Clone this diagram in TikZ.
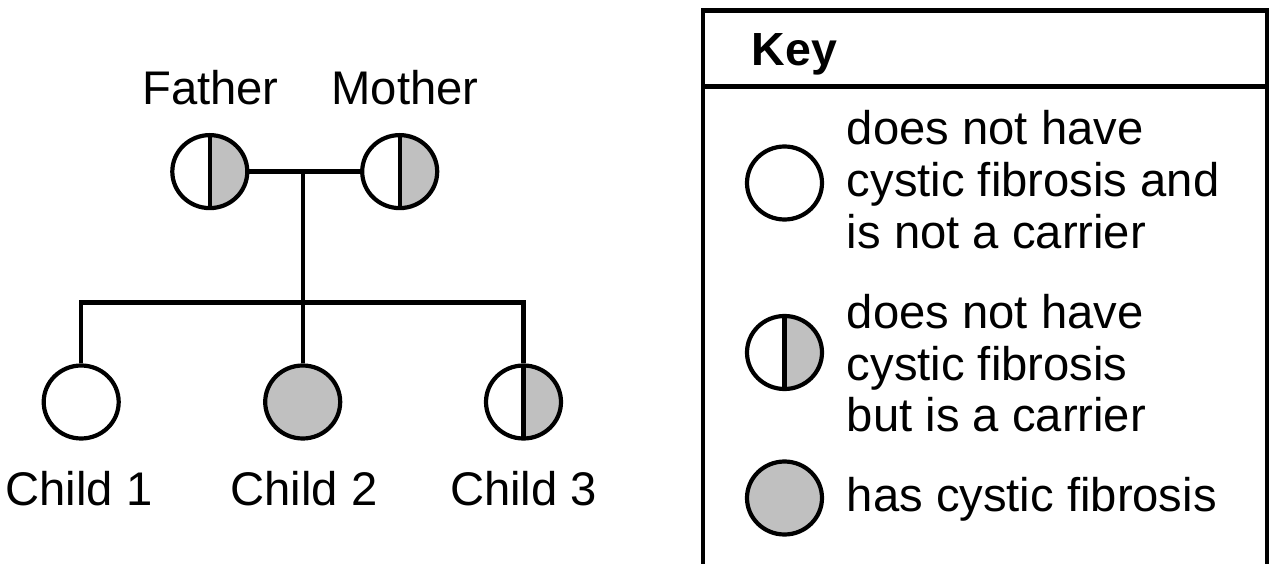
\documentclass[tikz,border=0pt]{standalone}
\usepackage{fontspec}
\setmainfont{Liberation Sans}
\usetikzlibrary{shapes.geometric}
\definecolor{cfgray}{RGB}{192,192,192}
\tikzset{
  link/.style={line width=4.2pt, line join=miter},
  person/.style={ellipse, draw, line width=4.2pt, fill=white,
    minimum width=75pt, minimum height=73pt, inner sep=0pt},
  unaffected/.style={person},
  affected/.style={person, fill=cfgray},
  carrier/.style={person, path picture={
    \fill[cfgray] (path picture bounding box.south) rectangle (path picture bounding box.north east);
    \draw[line width=4.2pt] (path picture bounding box.south) -- (path picture bounding box.north);}},
  lbl/.style={inner sep=0pt, font=\fontsize{47.2}{51.7}\selectfont},
  keytext/.style={lbl, align=left, anchor=base west}
}
\begin{document}
\begin{tikzpicture}[x=1pt, y=-1pt]
\useasboundingbox (0,0) rectangle (1269,564);

% pedigree: parents
\node[carrier] (father) at (209.8,171.6) {};
\node[carrier] (mother) at (399.7,171.6) {};
\node[lbl, anchor=base] (fatherlbl) at (210.5,105) {Father};
\node[lbl, anchor=base] (motherlbl) at (405,105) {Mother};

% pedigree: children
\node[unaffected] (c1) at (81.2,402) {};
\node[affected]   (c2) at (302.7,402) {};
\node[carrier]    (c3) at (523.5,402) {};
\node[lbl, anchor=base] (c1lbl) at (79,505) {Child 1};
\node[lbl, anchor=base] (c2lbl) at (304,505) {Child 2};
\node[lbl, anchor=base] (c3lbl) at (523.5,505) {Child 3};

% marriage and sibship lines
\coordinate (mid) at (302.7,171.6);
\coordinate (sib) at (302.7,302.4);
\draw[link] (father) -- (mother);
\draw[link] (mid) -- (sib);
\draw[link] (c1.north) -- (c1.north |- sib) -- (c3.north |- sib) -- (c3.north);
\draw[link] (sib) -- (c2.north);

% key box (open at the bottom)
\draw[link] (702.7,564) -- (702.7,10.5) -- (1267.5,10.5) -- (1267.5,564);
\draw[link] (702.7,86.5) -- (1267.5,86.5);
\node[lbl, anchor=base west, font=\fontsize{46.5}{51.7}\selectfont\bfseries] (keytitle) at (751.7,65.7) {Key};

\node[unaffected] (k1) at (784.5,183) {};
\node[carrier]    (k2) at (784.5,352.5) {};
\node[affected]   (k3) at (784.5,498) {};

% multi-line texts are placed by the baseline of their last line
\node[keytext] (t1) at (846.7,248.3) {does not have\\cystic fibrosis and\\is not a carrier};
\node[keytext] (t2) at (846.7,431.7) {does not have\\cystic fibrosis\\but is a carrier};
\node[keytext] (t3) at (846.7,511.7) {has cystic fibrosis};
\end{tikzpicture}
\end{document}
